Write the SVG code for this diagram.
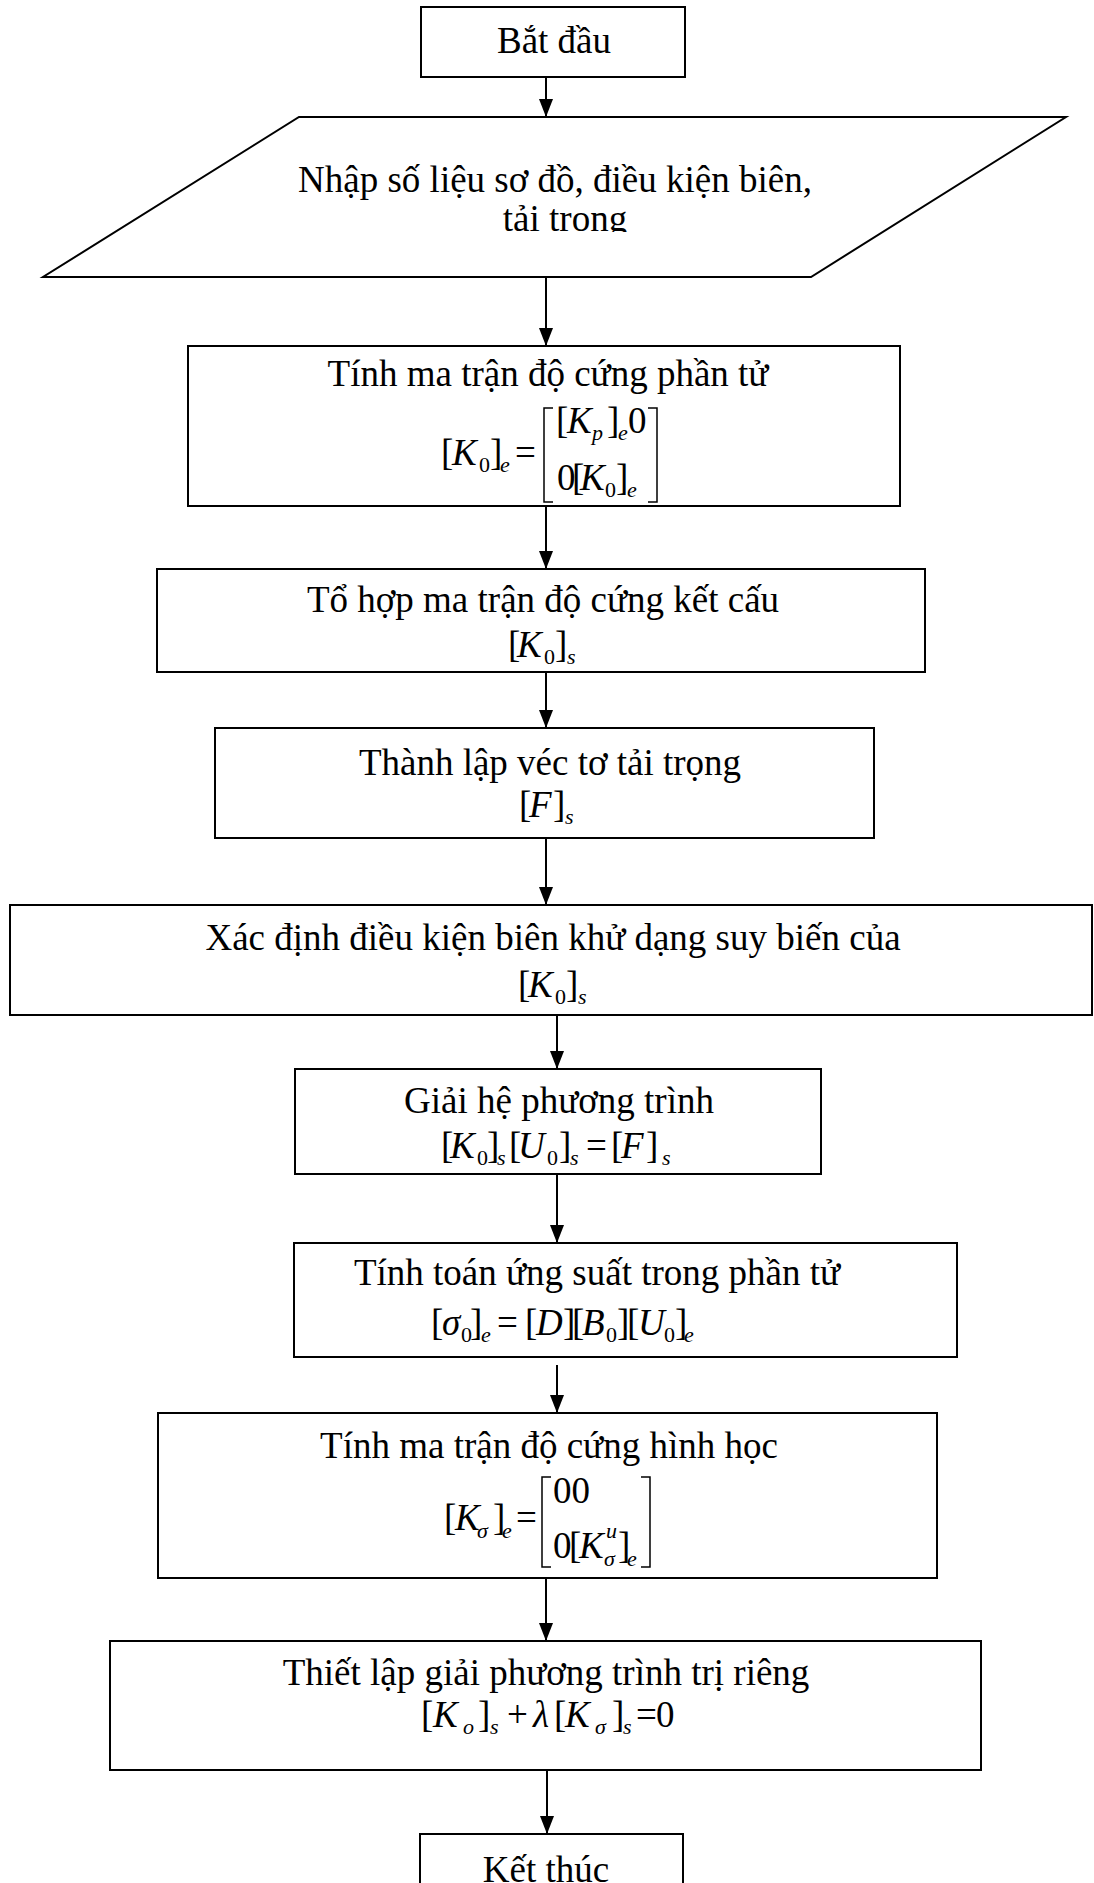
<svg xmlns="http://www.w3.org/2000/svg" width="1094" height="1883" viewBox="0 0 1094 1883">
<style>
.box{fill:#fff;stroke:#000;stroke-width:2}
.t{font-family:"Liberation Serif","Times New Roman",serif;font-size:37px;fill:#000}
.c{text-anchor:middle}
.i{font-style:italic}
.s{font-size:22px}
.br{fill:none;stroke:#000;stroke-width:1.5}
.ln{fill:none;stroke:#000;stroke-width:2}
</style>
<defs>
<marker id="ah" markerUnits="userSpaceOnUse" markerWidth="18" markerHeight="14" refX="18" refY="7" orient="auto" viewBox="0 0 18 14">
<path d="M0,0 L18,7 L0,14 z" fill="#000"/>
</marker>
<clipPath id="clipPar"><rect x="0" y="117" width="1094" height="115"/></clipPath>
</defs>
<rect width="1094" height="1883" fill="#fff"/>

<g id="connectors">
<path class="ln" d="M546,77 V117" marker-end="url(#ah)"/>
<path class="ln" d="M546,277 V346" marker-end="url(#ah)"/>
<path class="ln" d="M546,506 V569" marker-end="url(#ah)"/>
<path class="ln" d="M546,672 V728" marker-end="url(#ah)"/>
<path class="ln" d="M546,838 V905" marker-end="url(#ah)"/>
<path class="ln" d="M557,1015 V1069" marker-end="url(#ah)"/>
<path class="ln" d="M557,1174 V1243" marker-end="url(#ah)"/>
<path class="ln" d="M557,1365 V1413" marker-end="url(#ah)"/>
<path class="ln" d="M546,1578 V1641" marker-end="url(#ah)"/>
<path class="ln" d="M547,1770 V1834" marker-end="url(#ah)"/>
</g>

<g id="start">
<rect class="box" x="421" y="7" width="264" height="70"/>
<text class="t c" x="554" y="53">Bắt đầu</text>
</g>

<g id="input">
<polygon class="box" points="299,117 1066,117 811,277 43,277"/>
<g clip-path="url(#clipPar)">
<text class="t c" x="555" y="192">Nhập số liệu sơ đồ, điều kiện biên,</text>
<text class="t c" x="565" y="231">tải trong</text>
</g>
</g>

<g id="element-stiffness">
<rect class="box" x="188" y="346" width="712" height="160"/>
<text class="t c" x="548" y="386">Tính ma trận độ cứng phần tử</text>
<text class="t"><tspan x="441" y="465">[</tspan><tspan class="i" x="452" y="465">K</tspan><tspan class="s" x="479" y="472">0</tspan><tspan x="490" y="465">]</tspan><tspan class="i s" x="500" y="472">e</tspan><tspan x="515" y="465">=</tspan></text>
<path class="br" d="M553,408 H544 V502 H553 M648,408 H657 V502 H648"/>
<text class="t"><tspan x="556" y="433">[</tspan><tspan class="i" x="567" y="433">K</tspan><tspan class="i s" x="592" y="440">p</tspan><tspan x="607" y="433">]</tspan><tspan class="i s" x="618" y="440">e</tspan><tspan x="628" y="433">0</tspan></text>
<text class="t"><tspan x="557" y="490">0</tspan><tspan x="572" y="490">[</tspan><tspan class="i" x="580" y="490">K</tspan><tspan class="s" x="605" y="497">0</tspan><tspan x="616" y="490">]</tspan><tspan class="i s" x="627" y="497">e</tspan></text>
</g>

<g id="assemble">
<rect class="box" x="157" y="569" width="768" height="103"/>
<text class="t c" x="543" y="612">Tổ hợp ma trận độ cứng kết cấu</text>
<text class="t"><tspan x="508" y="657">[</tspan><tspan class="i" x="517" y="657">K</tspan><tspan class="s" x="544" y="664">0</tspan><tspan x="555" y="657">]</tspan><tspan class="i s" x="567" y="664">s</tspan></text>
</g>

<g id="load-vector">
<rect class="box" x="215" y="728" width="659" height="110"/>
<text class="t c" x="550" y="775">Thành lập véc tơ tải trọng</text>
<text class="t"><tspan x="519" y="817">[</tspan><tspan class="i" x="529" y="817">F</tspan><tspan x="553" y="817">]</tspan><tspan class="i s" x="565" y="824">s</tspan></text>
</g>

<g id="boundary">
<rect class="box" x="10" y="905" width="1082" height="110"/>
<text class="t c" x="553" y="950">Xác định điều kiện biên khử dạng suy biến của</text>
<text class="t"><tspan x="518" y="997">[</tspan><tspan class="i" x="528" y="997">K</tspan><tspan class="s" x="555" y="1004">0</tspan><tspan x="566" y="997">]</tspan><tspan class="i s" x="578" y="1004">s</tspan></text>
</g>

<g id="solve">
<rect class="box" x="295" y="1069" width="526" height="105"/>
<text class="t c" x="559" y="1113">Giải hệ phương trình</text>
<text class="t"><tspan x="441" y="1158">[</tspan><tspan class="i" x="450" y="1158">K</tspan><tspan class="s" x="477" y="1165">0</tspan><tspan x="487" y="1158">]</tspan><tspan class="i s" x="497" y="1165">s</tspan><tspan x="509" y="1158">[</tspan><tspan class="i" x="518" y="1158">U</tspan><tspan class="s" x="547" y="1165">0</tspan><tspan x="559" y="1158">]</tspan><tspan class="i s" x="570" y="1165">s</tspan><tspan x="586" y="1158">=</tspan><tspan x="611" y="1158">[</tspan><tspan class="i" x="621" y="1158">F</tspan><tspan x="646" y="1158">]</tspan><tspan class="i s" x="662" y="1165">s</tspan></text>
</g>

<g id="stress">
<rect class="box" x="294" y="1243" width="663" height="114"/>
<text class="t c" x="597" y="1285">Tính toán ứng suất trong phần tử</text>
<text class="t"><tspan x="431" y="1335">[</tspan><tspan class="i" x="442" y="1335">σ</tspan><tspan class="s" x="461" y="1342">0</tspan><tspan x="470" y="1335">]</tspan><tspan class="i s" x="481" y="1342">e</tspan><tspan x="497" y="1335">=</tspan><tspan x="525" y="1335">[</tspan><tspan class="i" x="536" y="1335">D</tspan><tspan x="563" y="1335">]</tspan><tspan x="572" y="1335">[</tspan><tspan class="i" x="582" y="1335">B</tspan><tspan class="s" x="606" y="1342">0</tspan><tspan x="617" y="1335">]</tspan><tspan x="627" y="1335">[</tspan><tspan class="i" x="638" y="1335">U</tspan><tspan class="s" x="664" y="1342">0</tspan><tspan x="675" y="1335">]</tspan><tspan class="i s" x="684" y="1342">e</tspan></text>
</g>

<g id="geometric-stiffness">
<rect class="box" x="158" y="1413" width="779" height="165"/>
<text class="t c" x="549" y="1458">Tính ma trận độ cứng hình học</text>
<text class="t"><tspan x="444" y="1530">[</tspan><tspan class="i" x="455" y="1530">K</tspan><tspan class="i s" x="477" y="1538">σ</tspan><tspan x="493" y="1530">]</tspan><tspan class="i s" x="502" y="1538">e</tspan><tspan x="516" y="1530">=</tspan></text>
<path class="br" d="M551,1477 H542 V1567 H551 M641,1477 H650 V1567 H641"/>
<text class="t" x="553" y="1503">00</text>
<text class="t"><tspan x="553" y="1558">0</tspan><tspan x="569" y="1558">[</tspan><tspan class="i" x="579" y="1558">K</tspan><tspan class="i s" x="606" y="1538">u</tspan><tspan class="i s" x="604" y="1566">σ</tspan><tspan x="618" y="1558">]</tspan><tspan class="i s" x="627" y="1566">e</tspan></text>
</g>

<g id="eigen">
<rect class="box" x="110" y="1641" width="871" height="129"/>
<text class="t c" x="546" y="1685">Thiết lập giải phương trình trị riêng</text>
<text class="t"><tspan x="421" y="1727">[</tspan><tspan class="i" x="433" y="1727">K</tspan><tspan class="i s" x="463" y="1734">o</tspan><tspan x="478" y="1727">]</tspan><tspan class="i s" x="490" y="1734">s</tspan><tspan x="507" y="1727">+</tspan><tspan class="i" x="533" y="1727">λ</tspan><tspan x="554" y="1727">[</tspan><tspan class="i" x="565" y="1727">K</tspan><tspan class="i s" x="595" y="1734">σ</tspan><tspan x="612" y="1727">]</tspan><tspan class="i s" x="623" y="1734">s</tspan><tspan x="636" y="1727">=</tspan><tspan x="656" y="1727">0</tspan></text>
</g>

<g id="end">
<rect class="box" x="420" y="1834" width="263" height="70"/>
<text class="t c" x="546" y="1882">Kết thúc</text>
</g>
</svg>
